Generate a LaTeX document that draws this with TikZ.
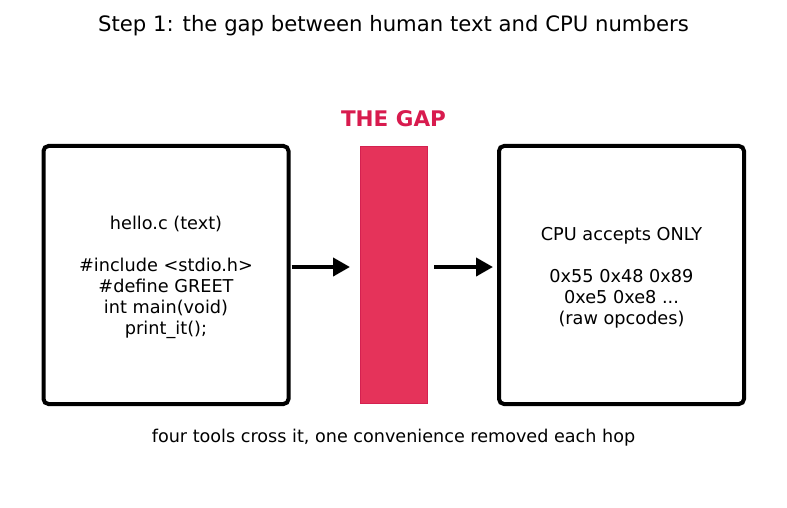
\documentclass[tikz,border=0pt]{standalone}
\usepackage{fontspec}
\setmainfont{DejaVu Sans}
\usetikzlibrary{arrows.meta,calc}

\definecolor{gapred}{HTML}{E5335A}
\definecolor{gapedge}{HTML}{D42150}
\definecolor{gaptext}{HTML}{D81B4E}

\tikzset{
  codebox/.style={draw=black, line width=4pt, rounded corners=5pt,
    minimum width=245pt, minimum height=258pt, inner sep=0pt,
    align=center, font=\fontsize{17.7}{21}\selectfont},
  hop/.style={-{Triangle[length=17pt,width=18pt]}, line width=4pt}
}

\begin{document}
\begin{tikzpicture}[x=1pt, y=-1pt]
  \useasboundingbox (0,0) rectangle (787,508);

  % --- titulo ---
  \node (title) at (393.5,26) {\fontsize{21.2}{25}\selectfont Step 1: the gap between human text and CPU numbers};

  % --- las dos cajas ---
  \node[codebox] (srcbox) at (166,275) {\\[-3pt]hello.c (text)\\[21pt]
    \#include <stdio.h>\\ \#define GREET\\ int main(void)\\ print\_it();};
  \node[codebox] (cpubox) at (621.5,275) {\\[-3pt]CPU accepts ONLY\\[21pt]
    0x55 0x48 0x89\\ 0xe5 0xe8 ...\\ (raw opcodes)};

  % --- la brecha ---
  \node[fill=gapred, draw=gapedge, line width=1pt, minimum width=67pt,
    minimum height=256pt, inner sep=0pt] (gapbar) at (394,275) {};
  \node[text=gaptext, font=\fontsize{21.5}{25}\selectfont\bfseries] (gaplabel) at (393.5,119) {THE GAP};

  \draw[hop, shorten <=1pt, shorten >=10pt] ($(srcbox.east)+(0,-8)$) -- ($(gapbar.west |- srcbox.east)+(0,-8)$);
  \draw[hop, shorten <=6pt, shorten >=4pt] ($(gapbar.east |- cpubox.west)+(0,-8)$) -- ($(cpubox.west)+(0,-8)$);

  \node (caption) at (393.5,438) {\fontsize{17.6}{21}\selectfont four tools cross it, one convenience removed each hop};
\end{tikzpicture}
\end{document}
